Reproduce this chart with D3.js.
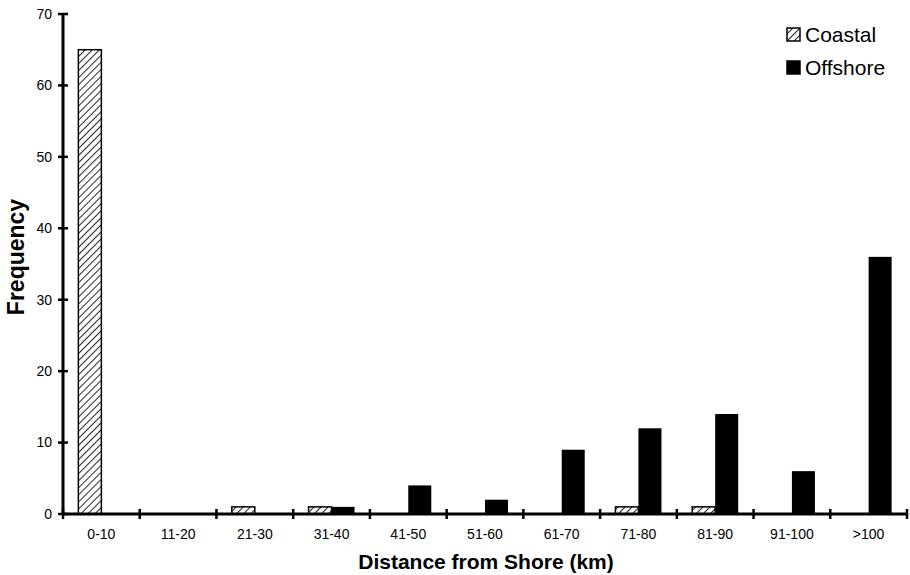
<!DOCTYPE html>
<html>
<head>
<meta charset="utf-8">
<script src="https://cdn.jsdelivr.net/npm/d3@7"></script>
<style>
  body { margin: 0; background: #fff; }
  text { font-family: "Liberation Sans", Arial, sans-serif; fill: #000; }
</style>
</head>
<body>
<div id="chart"></div>
<script>
var categories = ["0-10","11-20","21-30","31-40","41-50","51-60","61-70","71-80","81-90","91-100",">100"];
var coastal  = [65, 0, 1, 1, 0, 0, 0, 1, 1, 0, 0];
var offshore = [0, 0, 0, 1, 4, 2, 9, 12, 14, 6, 36];
var yTicks = [0, 10, 20, 30, 40, 50, 60, 70];
var seriesNames = ["Coastal", "Offshore"];

var width = 910, height = 575;
var padLeft = 63, padRight = 907, padTop = 14, padBottom = 514;

var svg = d3.select("#chart").append("svg")
  .attr("width", width)
  .attr("height", height);

svg.append("rect")
  .attr("width", width).attr("height", height)
  .attr("fill", "#fff");

// hatch pattern for coastal
var defs = svg.append("defs");
var pat = defs.append("pattern")
  .attr("id", "hatch")
  .attr("patternUnits", "userSpaceOnUse")
  .attr("width", 5).attr("height", 5)
  .attr("patternTransform", "rotate(45)");
pat.append("rect").attr("width", 5).attr("height", 5).attr("fill", "#fff");
pat.append("line")
  .attr("x1", 0).attr("y1", 0).attr("x2", 0).attr("y2", 5)
  .attr("stroke", "#000").attr("stroke-width", 1.7);

var xScale = d3.scaleBand()
  .domain(categories)
  .range([padLeft, padRight])
  .paddingInner(0).paddingOuter(0);

var barW = 23;
var yScale = d3.scaleLinear()
  .domain([0, 70])
  .range([padBottom, padTop]);

var data = categories.map(function(c, i) {
  return { cat: c, coastal: coastal[i], offshore: offshore[i] };
});

// coastal bars
svg.append("g").selectAll("rect")
  .data(data.filter(function(d) { return d.coastal > 0; }))
  .enter().append("rect")
  .attr("x", function(d) { return xScale(d.cat) + xScale.bandwidth() / 2 - barW; })
  .attr("y", function(d) { return yScale(d.coastal); })
  .attr("width", barW)
  .attr("height", function(d) { return yScale(0) - yScale(d.coastal); })
  .attr("fill", "url(#hatch)")
  .attr("stroke", "#000")
  .attr("stroke-width", 1.5);

// offshore bars
svg.append("g").selectAll("rect")
  .data(data.filter(function(d) { return d.offshore > 0; }))
  .enter().append("rect")
  .attr("x", function(d) { return xScale(d.cat) + xScale.bandwidth() / 2; })
  .attr("y", function(d) { return yScale(d.offshore); })
  .attr("width", barW)
  .attr("height", function(d) { return yScale(0) - yScale(d.offshore); })
  .attr("fill", "#000");

// y axis
var yAxis = svg.append("g")
  .attr("transform", "translate(" + padLeft + ",0)");
yAxis.append("line")
  .attr("x1", 0).attr("x2", 0)
  .attr("y1", yScale(70)).attr("y2", yScale(0))
  .attr("stroke", "#000").attr("stroke-width", 3);
yAxis.selectAll(".tick")
  .data(yTicks)
  .enter().append("line")
  .attr("x1", -5).attr("x2", 5)
  .attr("y1", function(d) { return yScale(d); })
  .attr("y2", function(d) { return yScale(d); })
  .attr("stroke", "#000").attr("stroke-width", 2.5);
yAxis.selectAll(".lab")
  .data(yTicks)
  .enter().append("text")
  .attr("x", -11)
  .attr("y", function(d) { return yScale(d); })
  .attr("dy", "0.35em")
  .attr("text-anchor", "end")
  .style("font-size", "14px")
  .text(function(d) { return d; });

// x axis
var xAxis = svg.append("g")
  .attr("transform", "translate(0," + padBottom + ")");
xAxis.append("line")
  .attr("x1", padLeft).attr("x2", padRight)
  .attr("stroke", "#000").attr("stroke-width", 3);
var edges = categories.map(function(c) { return xScale(c); }).concat([padRight]);
xAxis.selectAll(".tick")
  .data(edges)
  .enter().append("line")
  .attr("x1", function(d) { return d; }).attr("x2", function(d) { return d; })
  .attr("y1", -5).attr("y2", 5)
  .attr("stroke", "#000").attr("stroke-width", 2.5);
xAxis.selectAll(".lab")
  .data(categories)
  .enter().append("text")
  .attr("x", function(d) { return xScale(d) + xScale.bandwidth() / 2; })
  .attr("y", 25)
  .attr("text-anchor", "middle")
  .style("font-size", "14px")
  .text(function(d) { return d; });

// axis titles
svg.append("text")
  .attr("x", 486).attr("y", 569)
  .attr("text-anchor", "middle")
  .style("font-size", "21px")
  .style("font-weight", "bold")
  .text("Distance from Shore (km)");

svg.append("text")
  .attr("transform", "translate(24,257) rotate(-90)")
  .attr("text-anchor", "middle")
  .style("font-size", "23px")
  .style("font-weight", "bold")
  .text("Frequency");

// legend
var legend = svg.append("g");
seriesNames.forEach(function(name, i) {
  legend.append("rect")
    .attr("x", 787).attr("y", 28 + i * 33)
    .attr("width", 13).attr("height", 13)
    .attr("fill", i === 0 ? "url(#hatch)" : "#000")
    .attr("stroke", "#000").attr("stroke-width", 1.5);
  legend.append("text")
    .attr("x", 805).attr("y", 42 + i * 33)
    .style("font-size", "21px")
    .text(name);
});
</script>
</body>
</html>
